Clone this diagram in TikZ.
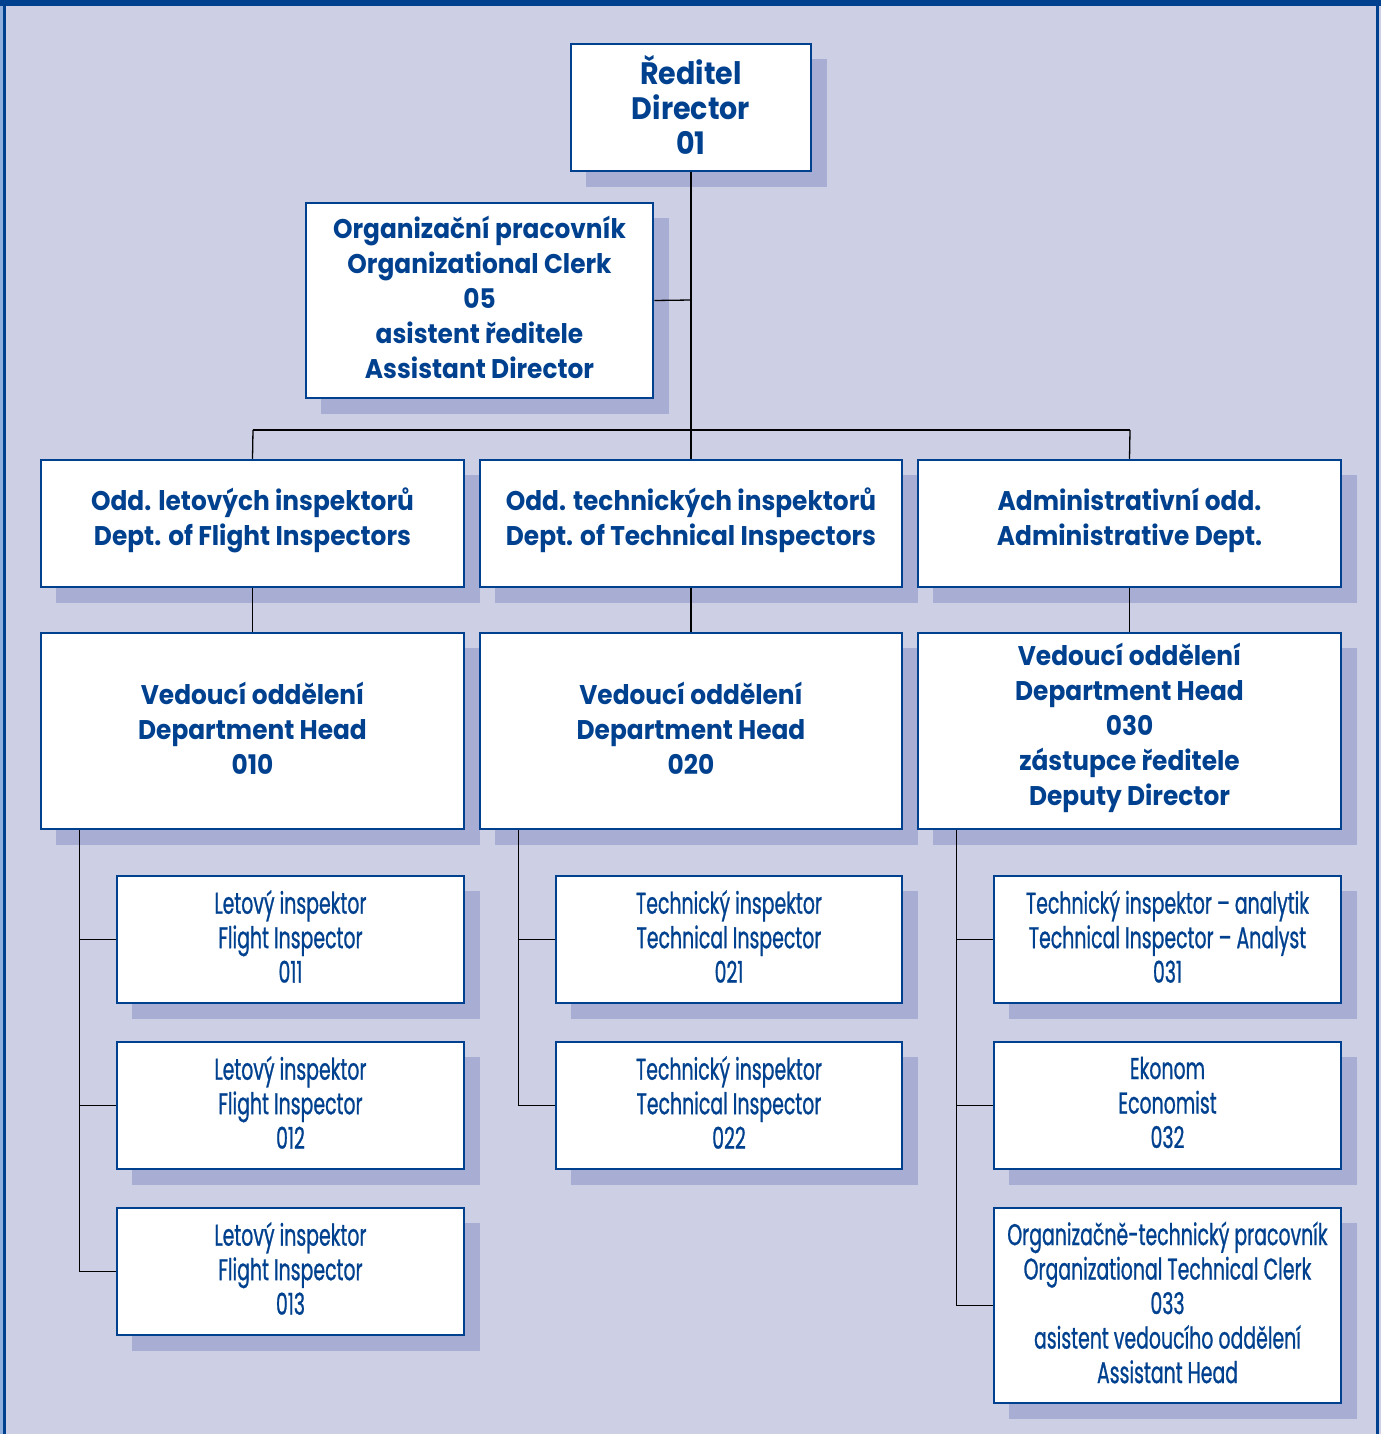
\documentclass[tikz,border=0pt]{standalone}
\usepackage{fontspec}
\setmainfont{Poppins}
\newfontfamily\headfont{Poppins}[FakeStretch=0.92]
\newfontfamily\condfont{Poppins}[FakeStretch=0.63,FakeBold=0.8]
\definecolor{bgc}{HTML}{CDD0E5}
\definecolor{shadowc}{HTML}{A8ADD3}
\definecolor{darkb}{HTML}{00418F}
\definecolor{lightb}{HTML}{8FB0DD}
\tikzset{
  orgbox/.style={draw=darkb, line width=2.5pt, fill=white, inner sep=0pt},
  orgtext/.style={align=center, text=darkb, inner sep=0pt},
  headtxt/.style={font=\headfont\bfseries\fontsize{27}{35}\selectfont},
  bigtxt/.style={font=\headfont\bfseries\fontsize{31}{35}\selectfont},
  smalltxt/.style={font=\condfont\fontsize{30}{34.5}\selectfont},
  conn/.style={draw=black, line width=1.3pt}
}
% #1 name, #2 x1, #3 y1, #4 x2, #5 y2, #6 style, #7 text
\newcommand\orgnode[7]{%
  \fill[shadowc] ({#2+15},{#3+15}) rectangle ({#4+16},{#5+16});
  \pgfmathsetmacro\bw{#4-#2}\pgfmathsetmacro\bh{#5-#3}%
  \node[orgbox,minimum width=\bw pt,minimum height=\bh pt] (#1) at ({(#2+#4)/2},{(#3+#5)/2}) {};
  \node[orgtext,#6] (#1-t) at ([yshift=3pt]#1.center) {#7};
}
\begin{document}
\begin{tikzpicture}[x=1pt,y=-1pt]
\useasboundingbox (0,0) rectangle (1381,1434);
\fill[bgc] (0,0) rectangle (1381,1434);
\fill[lightb] (0,0) rectangle (3,1434);
\fill[darkb] (3,0) rectangle (6,1434);
\fill[darkb] (1376,0) rectangle (1379,1434);
\fill[darkb] (0,0) rectangle (1381,6);

\coordinate (bus) at (691,430);
\coordinate (busL) at (253,430);
\coordinate (busR) at (1130,430);
\coordinate (clerkJ) at (691,300);

\orgnode{dir}{571}{44}{811}{171}{bigtxt}{Ředitel\\Director\\01}
\orgnode{clerk}{306}{203}{653}{398}{headtxt}{Organizační pracovník\\Organizational Clerk\\05\\asistent ředitele\\Assistant Director}

\orgnode{d1}{41}{460}{464}{587}{headtxt}{Odd. letových inspektorů\\Dept. of Flight Inspectors}
\orgnode{d2}{480}{460}{902}{587}{headtxt}{Odd. technických inspektorů\\Dept. of Technical Inspectors}
\orgnode{d3}{918}{460}{1341}{587}{headtxt}{Administrativní odd.\\Administrative Dept.}

\orgnode{h1}{41}{633}{464}{829}{headtxt}{Vedoucí oddělení\\Department Head\\010}
\orgnode{h2}{480}{633}{902}{829}{headtxt}{Vedoucí oddělení\\Department Head\\020}
\orgnode{h3}{918}{633}{1341}{829}{headtxt}{Vedoucí oddělení\\Department Head\\030\\zástupce ředitele\\Deputy Director}

\orgnode{s11}{117}{876}{464}{1003}{smalltxt}{Letový inspektor\\Flight Inspector\\011}
\orgnode{s12}{117}{1042}{464}{1169}{smalltxt}{Letový inspektor\\Flight Inspector\\012}
\orgnode{s13}{117}{1208}{464}{1335}{smalltxt}{Letový inspektor\\Flight Inspector\\013}

\orgnode{s21}{556}{876}{902}{1003}{smalltxt}{Technický inspektor\\Technical Inspector\\021}
\orgnode{s22}{556}{1042}{902}{1169}{smalltxt}{Technický inspektor\\Technical Inspector\\022}

\orgnode{s31}{994}{876}{1341}{1003}{smalltxt}{Technický inspektor – analytik\\Technical Inspector – Analyst\\031}
\orgnode{s32}{994}{1042}{1341}{1169}{smalltxt}{Ekonom\\Economist\\032}
\orgnode{s33}{994}{1208}{1341}{1403}{smalltxt}{Organizačně-technický pracovník\\Organizational Technical Clerk\\033\\asistent vedoucího oddělení\\Assistant Head}

% connectors
\draw[conn] (dir.south) -- (bus);
\draw[conn] (clerk.east) -- (clerkJ);
\draw[conn] (busL) -- (busR);
\draw[conn] (busL) -- (d1.north);
\draw[conn] (bus) -- (d2.north);
\draw[conn] (busR) -- (d3.north);
\draw[conn] (d1.south) -- (h1.north);
\draw[conn] (d2.south) -- (h2.north);
\draw[conn] (d3.south) -- (h3.north);

\draw[conn] (h1.south west) ++(40,0) |- (s13.west);
\draw[conn] (h1.south west) ++(40,0) |- (s11.west);
\draw[conn] (h1.south west) ++(40,0) |- (s12.west);
\draw[conn] (h2.south west) ++(40,0) |- (s22.west);
\draw[conn] (h2.south west) ++(40,0) |- (s21.west);
\draw[conn] (h3.south west) ++(40,0) |- (s33.west);
\draw[conn] (h3.south west) ++(40,0) |- (s31.west);
\draw[conn] (h3.south west) ++(40,0) |- (s32.west);
\end{tikzpicture}
\end{document}
